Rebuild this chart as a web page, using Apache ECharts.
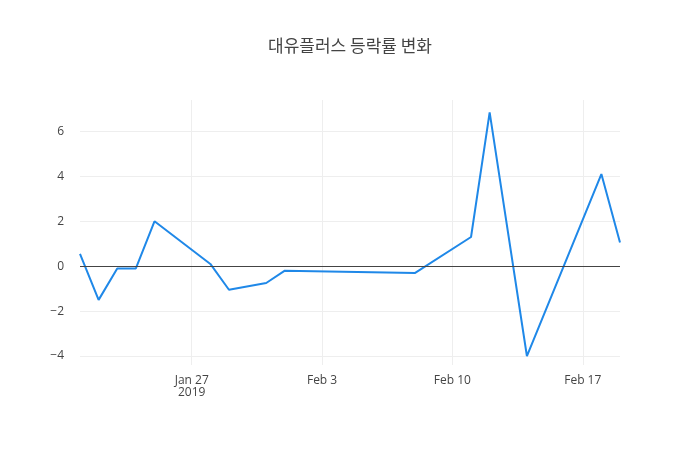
<!DOCTYPE html>
<html><head><meta charset="utf-8">
<script src="https://cdn.jsdelivr.net/npm/echarts@6/dist/echarts.min.js"></script>
<style>html,body{margin:0;padding:0;background:#fff}#c{width:700px;height:450px}</style>
</head><body><div id="c"></div>
<script>
const dates = ['2019-01-21','2019-01-22','2019-01-23','2019-01-24','2019-01-25','2019-01-28','2019-01-29',
  '2019-01-31','2019-02-01','2019-02-08','2019-02-11','2019-02-12','2019-02-14','2019-02-18','2019-02-19'];
const changes = [0.55,-1.5,-0.1,-0.1,2.0,0.1,-1.05,-0.75,-0.2,-0.3,1.3,6.85,-4.0,4.1,1.05];
const tickDates = ['2019-01-27','2019-02-03','2019-02-10','2019-02-17'];
const tickLabels = ['Jan 27\n2019','Feb 3','Feb 10','Feb 17'];
const yTicks = [-4,-2,0,2,4,6];

// x positions as day offsets from the first tick date
const DAY = 86400000;
const base = new Date(tickDates[0] + 'T00:00:00Z').getTime();
const day = d => (new Date(d + 'T00:00:00Z').getTime() - base) / DAY;
const xTicks = tickDates.map(day);

const chart = echarts.init(document.getElementById('c'));
chart.setOption({
  animation: false,
  title: { text: '대유플러스 등락률 변화', left: 'center', top: 32,
    textStyle: { fontFamily: 'Noto Sans CJK KR', fontSize: 17, fontWeight: 'normal', color: '#444' } },
  grid: { left: 80, right: 80, top: 100, bottom: 85 },
  xAxis: {
    type: 'value', min: day(dates[0]), max: day(dates[dates.length - 1]),
    axisLine: { show: false }, axisTick: { show: false, customValues: xTicks },
    axisLabel: { customValues: xTicks, color: '#444', fontSize: 12, fontFamily: 'Open Sans', margin: 10,
      formatter: v => tickLabels[xTicks.indexOf(v)] || '' },
    splitLine: { show: true, lineStyle: { color: '#eee' } }
  },
  yAxis: {
    type: 'value', min: -4.4, max: 7.4,
    axisLine: { show: false }, axisTick: { show: false, customValues: yTicks },
    axisLabel: { customValues: yTicks, color: '#444', fontSize: 12, fontFamily: 'Open Sans', margin: 16,
      formatter: v => String(v).replace('-', '−') },
    splitLine: { show: true, lineStyle: { color: '#eee' } }
  },
  series: [{
    type: 'line', showSymbol: false,
    data: dates.map((d, i) => [day(d), changes[i]]),
    lineStyle: { color: '#1f88e8', width: 2 },
    markLine: { silent: true, symbol: 'none', label: { show: false },
      lineStyle: { color: '#444', width: 1, type: 'solid' }, data: [{ yAxis: 0 }] }
  }]
});
</script></body></html>
